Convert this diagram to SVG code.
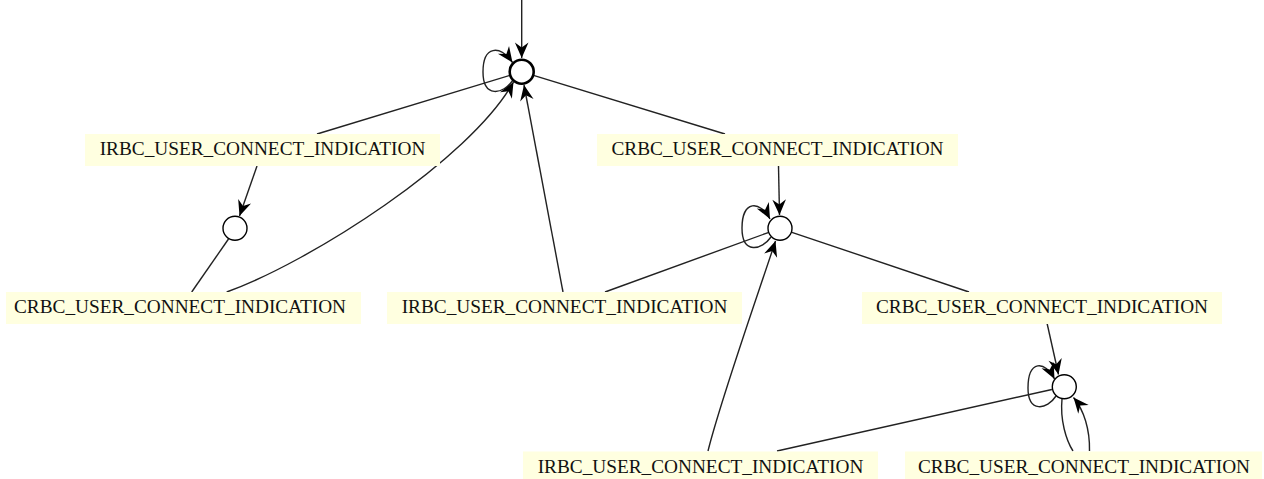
<svg xmlns="http://www.w3.org/2000/svg" width="1264" height="479" viewBox="0 0 1264 479">
  <style>
    .label rect { fill: #ffffe0; stroke: none; }
    .label text { font-family: "Liberation Serif", "Times New Roman", serif; font-size: 19.3px; fill: #111; text-anchor: middle; }
    .state circle { fill: #ffffff; stroke: #000; stroke-width: 1.4; }
    #s0 circle { stroke-width: 2.6; }
    .edges path { fill: none; stroke: #222; stroke-width: 1.4; }
    .edges .arrow { marker-end: url(#head); }
  </style>
  <defs>
    <marker id="head" markerUnits="userSpaceOnUse" viewBox="-17 -8 18 16" refX="0" refY="0" markerWidth="18" markerHeight="16" orient="auto">
      <path d="M0,0 L-15.5,-6.8 L-10.5,0 L-15.5,6.8 z" fill="#000"/>
    </marker>
  </defs>

  <!-- transitions -->
  <g class="edges">
    <!-- initial -->
    <path class="arrow" d="M521.7,0 L521.7,58"/>
    <!-- s0 self loop -->
    <path class="arrow" d="M513,80 C503,95 483,98 483,72 C483,45 500,45 512.5,62.5"/>
    <!-- s0 -> IRBC label (left) -->
    <path d="M510,75.3 L317,134"/>
    <!-- s0 -> CRBC label (top right) -->
    <path d="M533.5,75.3 L725,134"/>
    <!-- IRBC label -> s1 -->
    <path class="arrow" d="M257,166 L239.5,216"/>
    <!-- s1 -> CRBC label -->
    <path d="M228.5,239 L191.7,292"/>
    <!-- CRBC label -> s0 -->
    <path class="arrow" d="M226.7,292 C310,262 470,160 513.5,82"/>
    <!-- IRBC label -> s0 -->
    <path class="arrow" d="M563,292 L524,85"/>
    <!-- CRBC label -> s2 -->
    <path class="arrow" d="M778.5,166 L779.5,215"/>
    <!-- s2 self loop -->
    <path class="arrow" d="M771,237 C762,250 742,255 742,228 C742,200 760,200 770,219"/>
    <!-- s2 -> IRBC label -->
    <path d="M768.2,232.6 L605,292"/>
    <!-- s2 -> CRBC label -->
    <path d="M791.9,232.3 L969,292"/>
    <!-- IRBC label -> s2 -->
    <path class="arrow" d="M708,451 C720,402 756,300 775.5,241"/>
    <!-- CRBC label -> s3 -->
    <path class="arrow" d="M1047,323 L1058.5,374.5"/>
    <!-- s3 self loop -->
    <path class="arrow" d="M1056,396 C1047,410 1028,413 1028,388 C1028,360 1045,360 1054.5,379"/>
    <!-- s3 -> IRBC label -->
    <path d="M1051.9,389.5 L777,451"/>
    <!-- s3 -> CRBC label -->
    <path d="M1062,399 C1060,420 1066,440 1073,451"/>
    <!-- CRBC label -> s3 -->
    <path class="arrow" d="M1089.5,451 C1090,430 1084,410 1073.5,397.5"/>
  </g>

  <!-- states -->
  <g id="s0" class="state"><circle cx="521.7" cy="71.7" r="12"/></g>
  <g id="s1" class="state"><circle cx="235" cy="228.3" r="12"/></g>
  <g id="s2" class="state"><circle cx="780" cy="228.3" r="12"/></g>
  <g id="s3" class="state"><circle cx="1064.3" cy="386.7" r="12"/></g>

  <!-- event labels -->
  <g id="l_irbc_1" class="label"><rect x="85" y="134" width="355" height="32"/><text x="262.5" y="155">IRBC_USER_CONNECT_INDICATION</text></g>
  <g id="l_crbc_1" class="label"><rect x="597" y="134" width="361" height="32"/><text x="777.5" y="155">CRBC_USER_CONNECT_INDICATION</text></g>
  <g id="l_crbc_2" class="label"><rect x="6" y="292" width="355" height="32"/><text x="180" y="313.3">CRBC_USER_CONNECT_INDICATION</text></g>
  <g id="l_irbc_2" class="label"><rect x="387" y="292" width="355" height="32"/><text x="564.5" y="313.3">IRBC_USER_CONNECT_INDICATION</text></g>
  <g id="l_crbc_3" class="label"><rect x="862" y="292" width="360" height="32"/><text x="1042" y="313.3">CRBC_USER_CONNECT_INDICATION</text></g>
  <g id="l_irbc_3" class="label"><rect x="523" y="451.5" width="355" height="32"/><text x="700.5" y="472.5">IRBC_USER_CONNECT_INDICATION</text></g>
  <g id="l_crbc_4" class="label"><rect x="905" y="451.5" width="357" height="32"/><text x="1084" y="472.5">CRBC_USER_CONNECT_INDICATION</text></g>
</svg>
